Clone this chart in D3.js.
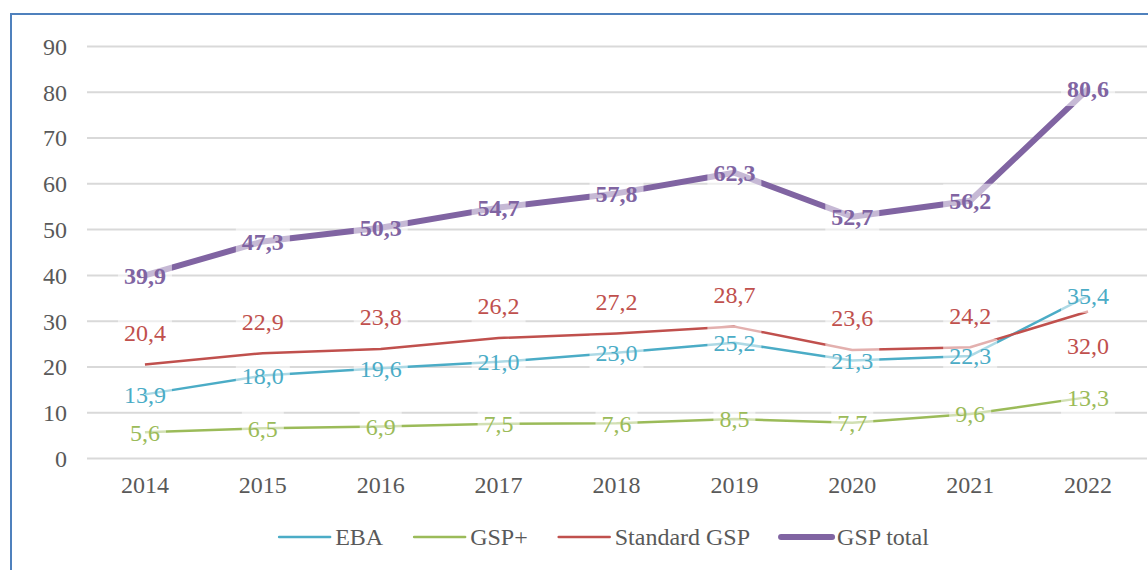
<!DOCTYPE html>
<html><head><meta charset="utf-8">
<script src="https://cdn.jsdelivr.net/npm/d3@7"></script>
<style>
html,body{margin:0;padding:0;background:#fff;}
svg text{font-family:"Liberation Serif","Times New Roman",Times,"DejaVu Serif",serif !important;}
</style></head>
<body>
<svg id="c" width="1148" height="570"></svg>
<script>
const years = ["2014","2015","2016","2017","2018","2019","2020","2021","2022"];
const eba = [13.9,18.0,19.6,21.0,23.0,25.2,21.3,22.3,35.4];
const gspPlus = [5.6,6.5,6.9,7.5,7.6,8.5,7.7,9.6,13.3];
const standardGsp = [20.4,22.9,23.8,26.2,27.2,28.7,23.6,24.2,32.0];
const gspTotal = [39.9,47.3,50.3,54.7,57.8,62.3,52.7,56.2,80.6];
const yTicks = [0,10,20,30,40,50,60,70,80,90];
const seriesNames = ["EBA","GSP+","Standard GSP","GSP total"];

const series = [
  {name:seriesNames[0], values:eba, color:"#4bacc6", width:2.5, bold:false, pos:"center"},
  {name:seriesNames[1], values:gspPlus, color:"#9bbb59", width:2.5, bold:false, pos:"center"},
  {name:seriesNames[2], values:standardGsp, color:"#c0504d", width:2.5, bold:false, pos:"above"},
  {name:seriesNames[3], values:gspTotal, color:"#8064a2", width:6, bold:true, pos:"center"}
];

const svg = d3.select("#c");
svg.append("rect").attr("x",11).attr("y",14).attr("width",1160).attr("height",580)
  .attr("fill","none").attr("stroke","#4f81bd").attr("stroke-width",2);

const x = d3.scaleBand().domain(years).range([86,1147]);
const y = d3.scaleLinear().domain([0,90]).range([458,46]);
const cx = d => x(d) + x.bandwidth()/2;

const grid = svg.append("g").attr("transform","translate(87,0)")
  .call(d3.axisLeft(y).tickValues(yTicks).tickSize(-(1147-87)).tickFormat(""));
grid.select(".domain").remove();
grid.selectAll("line").attr("stroke","#d9d9d9").attr("stroke-width",2);

const yAx = svg.append("g").attr("transform","translate(87,0)")
  .call(d3.axisLeft(y).tickValues(yTicks).tickSize(0).tickPadding(20));
yAx.select(".domain").remove();
yAx.selectAll("text").attr("font-size",24).attr("fill","#595959").attr("dy","0.35em");

const xAx = svg.append("g").attr("transform","translate(0,458)")
  .call(d3.axisBottom(x).tickSize(0).tickPadding(18));
xAx.select(".domain").remove();
xAx.selectAll("text").attr("font-size",24).attr("fill","#595959").attr("dy","0.71em");

const line = d3.line().x((d,i)=>cx(years[i])).y(d=>y(d));
series.forEach(s=>{
  svg.append("path").datum(s.values).attr("d",line).attr("fill","none")
    .attr("stroke",s.color).attr("stroke-width",s.width)
    .attr("stroke-linejoin","round").attr("stroke-linecap","butt");
});

const fmt = v => d3.format(".1f")(v).replace(".",",");
const lblG = svg.append("g");
const labels = [];
series.forEach(s=>{
  s.values.forEach((v,i)=>{
    let off = 0;
    if (s.pos==="above") off = (i===years.length-1) ? 34 : -32;
    labels.push({s, v, i, lx:cx(years[i]), ly:y(v)+off});
  });
});
const bgG = lblG.append("g");
const txG = lblG.append("g");
labels.forEach(L=>{
  const t = txG.append("text").attr("x",L.lx).attr("y",L.ly).attr("dy","0.35em")
    .attr("text-anchor","middle").attr("font-size",24)
    .attr("font-weight",L.s.bold?"bold":"normal")
    .attr("fill",L.s.color).text(fmt(L.v));
  const w = t.node().getComputedTextLength();
  bgG.append("rect").attr("x",L.lx-w/2-6).attr("y",L.ly-17)
    .attr("width",w+12).attr("height",34)
    .attr("fill","#fff").attr("fill-opacity",0.55);
});

const leg = svg.append("g");
const items = [];
series.forEach(s=>{
  const g = leg.append("g");
  g.append("line").attr("x1",0).attr("x2",51).attr("y1",0).attr("y2",0)
    .attr("stroke",s.color).attr("stroke-width",s.width).attr("stroke-linecap","round");
  const t = g.append("text").attr("x",56).attr("y",0).attr("dy","0.35em")
    .attr("font-size",24).attr("fill","#595959").text(s.name);
  const w = 56 + t.node().getComputedTextLength();
  items.push({g,w});
});
const gap = 31;
const total = d3.sum(items,d=>d.w) + gap*(items.length-1);
let start = 604 - total/2;
items.forEach(it=>{
  it.g.attr("transform",`translate(${start},537)`);
  start += it.w + gap;
});
</script>
</body></html>
